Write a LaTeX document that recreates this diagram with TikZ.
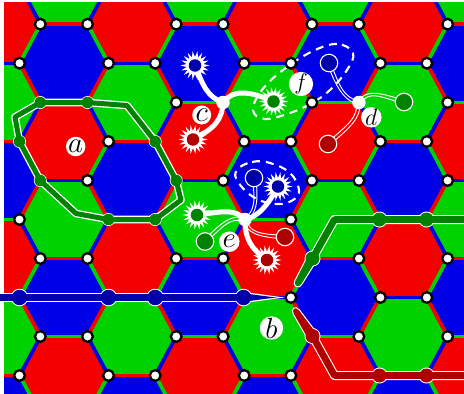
\documentclass[tikz,border=0pt]{standalone}
\definecolor{hr}{RGB}{245,0,0}
\definecolor{hg}{RGB}{0,210,0}
\definecolor{hb}{RGB}{0,0,230}
\definecolor{dr}{RGB}{175,0,0}
\definecolor{dg}{RGB}{0,130,0}
\definecolor{db}{RGB}{0,0,170}
\newcommand\cellloop[1]{%
  \foreach \cx in {-3.85,131.85,267.55,403.25}{%
    \foreach \cy/\cf/\ca/\cb in {24.2/hr/hg/hb,102.5/hg/hb/hr,180.5/hb/hr/hg,258.5/hr/hg/hb,336.5/hg/hb/hr,414.5/hb/hr/hg}{#1}}%
  \foreach \cx in {64,199.7,335.4,471.1}{%
    \foreach \cy/\cf/\ca/\cb in {-15/hg/hb/hr,63.2/hb/hr/hg,141.5/hr/hg/hb,219.5/hg/hb/hr,297.5/hb/hr/hg,375.5/hr/hg/hb}{#1}}%
}
\newcommand\hexfill{\fill[\cf] ({\cx-23.5},{\cy-39.2}) -- ({\cx+23.5},{\cy-39.2}) -- ({\cx+44.5},\cy) -- ({\cx+23.5},{\cy+39.2}) -- ({\cx-23.5},{\cy+39.2}) -- ({\cx-44.5},\cy) -- cycle;}
\newcommand\hexedges{%
  \draw[celledge,\ca] ({\cx-23.5},{\cy-39.2}) -- ({\cx+23.5},{\cy-39.2});
  \draw[celledge,\cb] ({\cx+23.5},{\cy-39.2}) -- ({\cx+44.5},\cy);
  \draw[celledge,\ca] ({\cx+44.5},\cy) -- ({\cx+23.5},{\cy+39.2});
  \draw[celledge,\cb] ({\cx+23.5},{\cy+39.2}) -- ({\cx-23.5},{\cy+39.2});
  \draw[celledge,\ca] ({\cx-23.5},{\cy+39.2}) -- ({\cx-44.5},\cy);
  \draw[celledge,\cb] ({\cx-44.5},\cy) -- ({\cx-23.5},{\cy-39.2});}
\newcommand\twin[8]{%
  \foreach \s in {1,-1}{%
    \draw[twinline] ([shift={({\s*(#5)},{\s*(#6)})}]#1.center)
      .. controls ([shift={({\s*(#5)},{\s*(#6)})}]#2) and ([shift={({\s*(#7)},{\s*(#8)})}]#3)
      .. ([shift={({\s*(#7)},{\s*(#8)})}]#4.center);}}
\newcommand\spiky[3]{%
  \coordinate (#1) at (#2,#3);
  \fill[white,shift={(#2,#3)}] (14.5,0)
    \foreach \t in {1,...,35}{ -- ({(mod(\t,2)==0?14.5:8.6)*cos(10*\t)},{(mod(\t,2)==0?14.5:8.6)*sin(10*\t)})} -- cycle;}
\tikzset{
  celledge/.style={line width=3.4pt,line cap=butt},
  vertexdot/.style={circle,draw=black,fill=white,line width=2.3pt,minimum size=10.7pt,inner sep=0pt},
  hubdot/.style={circle,fill=white,minimum size=13.5pt,inner sep=0pt},
  coredot/.style={circle,fill=#1,minimum size=12.5pt,inner sep=0pt},
  ringdot/.style={circle,draw=white,line width=1.1pt,fill=#1,minimum size=17.5pt,inner sep=0pt},
  thickconn/.style={white,line width=5pt,line cap=round},
  twinline/.style={white,line width=0.95pt},
  dashloop/.style={white,line width=2.1pt,dash pattern=on 8pt off 6pt},
  bandhalo/.style={white,line width=#1,line join=round},
  bandcore/.style={line width=#1,line join=round},
  bead/.style={circle,fill=#1,minimum size=11pt,inner sep=0pt},
  biglabel/.style={circle,fill=white,inner sep=0pt,minimum size=#1,font=\huge},
}
\begin{document}
\begin{tikzpicture}[x=1pt,y=-1pt]
\useasboundingbox (0,0) rectangle (464,394);
\fill[white] (0,0) rectangle (464,394);
\begin{scope}
  \clip (4,2.7) rectangle (464,394);
  \cellloop{\hexfill}
  \cellloop{\hexedges}

  % dashed loops
  \draw[dashloop] plot[smooth cycle,tension=0.65] coordinates {(353,53) (337,44) (312,51.5) (283,70) (262,90) (253,110) (265,119) (290,113) (312,103) (330,90) (347,70)};
  \draw[dashloop] plot[smooth cycle,tension=0.7] coordinates {(237,170) (252,162) (270,163) (290,173) (299,190) (293,200) (277,204) (255,198) (238,182)};
\end{scope}

% lattice vertices
\foreach \vx/\vy [count=\i] in {
 40.3/24.2,87.5/24.2,176.2/24.2,223.2/24.2,311.9/24.2,358.9/24.2,447.6/24.2,
 19.5/63.2,108.5/63.2,155.2/63.2,244.2/63.2,290.9/63.2,380.4/63.2,426.8/63.2,
 176.2/102.5,311.9/102.5,447.6/102.5,
 108.5/141.5,244.2/141.5,290.9/141.5,380.4/141.5,426.8/141.5,
 87.5/180.5,223.2/180.5,311.9/180.5,358.9/180.5,447.6/180.5,
 19.5/219.5,290.9/219.5,
 40.3/258.5,87.5/258.5,176.2/258.5,223.2/258.5,358.9/258.5,447.6/258.5,
 290.9/297.5,380.4/297.5,426.8/297.5,
 40.3/336.5,87.5/336.5,176.2/336.5,223.2/336.5,358.9/336.5,447.6/336.5,
 19.5/375.5,108.5/375.5,155.2/375.5,244.2/375.5,290.9/375.5}{
  \node[vertexdot] (v\i) at (\vx,\vy) {};
}

% green loop a
\foreach \n/\px/\py in {la/40.3/102.5,lb/87.5/102.5,ld/155.2/141.5,le/176.2/180.5,lg/155.2/219.5,lh/108.5/219.5,lj/40.3/180.5,lk/19.5/141.5}{
  \node[bead=white,minimum size=13pt] (\n o) at (\px,\py) {};
  \coordinate (\n) at (\px,\py);
}
\coordinate (lc) at (127,105.5);
\coordinate (lf) at (181,200);
\coordinate (li) at (76,213.5);
\coordinate (ll) at (15,117);
\draw[bandhalo=7.6pt] (la) -- (lb) -- (lc) -- (ld) -- (le) -- (lf) -- (lg) -- (lh) -- (li) -- (lj) -- (lk) -- (ll) -- cycle;
\draw[bandcore=5pt,dg] (la) -- (lb) -- (lc) -- (ld) -- (le) -- (lf) -- (lg) -- (lh) -- (li) -- (lj) -- (lk) -- (ll) -- cycle;
\foreach \n in {la,lb,ld,le,lg,lh,lj,lk}{\node[bead=dg,minimum size=11.5pt] (\n i) at (\n) {};}

% blue band b
\foreach \n/\px in {ba/19.5,bb/108.5,bc/155.2,bd/243.5}{
  \node[bead=white,minimum size=17.5pt] (\n o) at (\px,297.5) {};
  \coordinate (\n) at (\px,297.5);
}
\coordinate (bs) at (-6,297.5);
\coordinate (bt) at (277,297.5);
\draw[white,line width=2pt,fill=white] (243.5,293.2) .. controls (255,294.2) and (265,296) .. (bt) .. controls (265,299) and (255,300.8) .. (243.5,301.8) -- cycle;
\draw[bandhalo=9pt] (bs) -- (bd);
\fill[db] (243.5,293.2) .. controls (255,294.7) and (265,296.3) .. (bt) .. controls (265,298.7) and (255,300.3) .. (243.5,301.8) -- cycle;
\draw[bandcore=6.8pt,db] (bs) -- (bd);
\foreach \n in {ba,bb,bc,bd}{\node[bead=db,minimum size=15.5pt] (\n i) at (\n) {};}

% green band right
\foreach \n/\px/\py in {ga/312.5/258.5,gb/379.5/219.5,gc/426.5/219.5}{
  \node[bead=white,minimum size=16pt] (\n o) at (\px,\py) {};
  \coordinate (\n) at (\px,\py);
}
\coordinate (gk) at (334.5,219.5);
\coordinate (ge) at (470,219.5);
\draw[draw=white,line width=1pt,fill=dg] (307.4,256.2) -- (294.7,280.9) .. controls (292.5,287) and (299.5,289) .. (301.8,284.4) -- (316.6,260.8) -- cycle;
\draw[bandhalo=9pt] (ga) -- (gk) -- (ge);
\draw[bandcore=6.8pt,dg] (ga) -- (gk) -- (ge);
\foreach \n in {ga,gb,gc}{\node[bead=dg,minimum size=14pt] (\n i) at (\n) {};}

% red band right
\foreach \n/\px/\py in {ra/312.5/336,rb/379.5/375.5,rc/426.5/375.5}{
  \node[bead=white,minimum size=16pt] (\n o) at (\px,\py) {};
  \coordinate (\n) at (\px,\py);
}
\coordinate (rk) at (334.5,375.5);
\coordinate (re) at (470,375.5);
\draw[draw=white,line width=1pt,fill=dr] (316.6,332.8) -- (299.4,309.8) .. controls (295.5,305) and (290,309) .. (293.4,314.4) -- (307.6,339) -- cycle;
\draw[bandhalo=9pt] (ra) -- (rk) -- (re);
\draw[bandcore=6.8pt,dr] (ra) -- (rk) -- (re);
\foreach \n in {ra,rb,rc}{\node[bead=dr,minimum size=14pt] (\n i) at (\n) {};}

% hubs and ends
\coordinate (hubc) at (223,102.5);
\coordinate (hubd) at (358.9,102.5);
\coordinate (hube) at (245,219.5);
\spiky{sc1}{195}{65.5}
\spiky{sc2}{193}{139.5}
\spiky{sc3}{273.5}{101.5}
\spiky{se1}{197}{215}
\spiky{se2}{267}{260}
\spiky{se3}{278}{186.5}
\coordinate (dd1) at (329,63);
\coordinate (dd2) at (404,102);
\coordinate (dd3) at (328,144);
\coordinate (ee1) at (254,178);
\coordinate (ee2) at (205,241.5);
\coordinate (ee3) at (285,237);

\draw[thickconn] (hubc) .. controls (207,97) and (203,85) .. (sc1);
\draw[thickconn] (hubc) .. controls (222,120) and (215,128) .. (sc2);
\draw[thickconn] (hubc) .. controls (232,90) and (248,90) .. (sc3);
\draw[thickconn] (hube) .. controls (235,208) and (220,212) .. (se1);
\draw[thickconn] (hube) .. controls (245,238) and (250,248) .. (se2);
\draw[thickconn] (hube) .. controls (258,217) and (268,205) .. (se3);

\twin{hubd}{344,100}{337,85}{dd1}{0}{1.7}{-1.7}{0.3}
\twin{hubd}{368,90}{378,94}{dd2}{1.35}{1.04}{-0.5}{1.6}
\twin{hubd}{358,118}{352,124}{dd3}{-1.7}{0}{-1.1}{-1.3}
\twin{hube}{256,213}{257,200}{ee1}{0.8}{1.5}{1.7}{-0.2}
\twin{hube}{232,216}{224,222}{ee2}{0.4}{-1.66}{-1.2}{-1.2}
\twin{hube}{247,232}{258,236}{ee3}{-1.7}{0.26}{-0.06}{1.7}

\node[coredot=db] (cc1) at (sc1) {};
\node[coredot=dr] (cc2) at (sc2) {};
\node[coredot=dg] (cc3) at (sc3) {};
\node[coredot=dg] (ce1) at (se1) {};
\node[coredot=dr] (ce2) at (se2) {};
\node[coredot=db] (ce3) at (se3) {};
\node[ringdot=db] (nd1) at (dd1) {};
\node[ringdot=dg] (nd2) at (dd2) {};
\node[ringdot=dr] (nd3) at (dd3) {};
\node[ringdot=db] (ne1) at (ee1) {};
\node[ringdot=dg] (ne2) at (ee2) {};
\node[ringdot=dr] (ne3) at (ee3) {};
\node[hubdot] (hc) at (hubc) {};
\node[hubdot] (hd) at (hubd) {};
\node[hubdot] (he) at (hube) {};

% labels
\node[biglabel=19.5pt] (la1) at (75.7,146.5) {\scalebox{1.4}{$a$}};
\node[biglabel=22.5pt] (la2) at (271.5,328) {\scalebox{1.4}{$b$}};
\node[biglabel=19pt] (la3) at (201.7,115) {\scalebox{1.4}{$c$}};
\node[biglabel=19pt] (la4) at (371.3,117.3) {\scalebox{1.15}{$d$}};
\node[biglabel=20.5pt] (la5) at (229.3,241.7) {\scalebox{1.4}{$e$}};
\node[biglabel=19pt] (la6) at (301,84) {\scalebox{1.1}{$f$}};
\end{tikzpicture}
\end{document}
